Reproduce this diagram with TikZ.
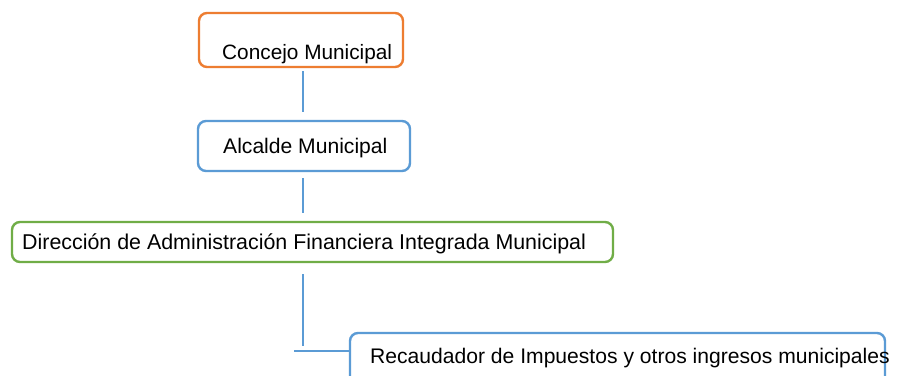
\documentclass[tikz,border=0pt]{standalone}
\usepackage{fontspec}
\setmainfont{Liberation Sans}
\definecolor{orgc}{HTML}{ED7D31}
\definecolor{bluc}{HTML}{5B9BD5}
\definecolor{grnc}{HTML}{70AD47}
\begin{document}
\begin{tikzpicture}[x=1pt,y=-1pt,
  box/.style={draw=#1,line width=2.4pt,rounded corners=8pt,inner sep=0pt,fill=white},
  lbl/.style={anchor=base west,inner sep=0pt,font=\fontsize{#1}{24}\selectfont},
  lbl/.default=21,
  conn/.style={draw=bluc,line width=1.4pt}]
\useasboundingbox (0,0) rectangle (899,375);
\clip (0,0) rectangle (899,375);
\fill[white] (0,0) rectangle (899,375);
\node[box=orgc,minimum width=204pt,minimum height=54pt] (c) at (301,40) {};
\node[lbl=20.8] (ct) at (222,59) {Concejo Municipal};
\node[box=bluc,minimum width=212pt,minimum height=50pt] (a) at (304,146) {};
\node[lbl=21.1] (at) at (223,153) {Alcalde Municipal};
\node[box=grnc,minimum width=601pt,minimum height=40pt] (g) at (312.5,242) {};
\node[lbl=21.4] (gt) at (22,249) {Dirección de Administración Financiera Integrada Municipal};
\node[box=bluc,minimum width=535pt,minimum height=80pt] (r) at (617.5,373) {};
\node[lbl=21.1] (rt) at (370,363) {Recaudador de Impuestos y otros ingresos municipales};
\coordinate (j) at (303,346);
\coordinate (h) at (294,351);
\draw[conn,shorten <=3pt,shorten >=8pt] (c.south -| j) -- (a.north -| j);
\draw[conn,shorten <=6pt,shorten >=8pt] (a.south -| j) -- (g.north -| j);
\draw[conn,shorten <=11pt] (g.south -| j) -- (j);
\draw[conn] (h) -- (h -| r.west);
\end{tikzpicture}
\end{document}
